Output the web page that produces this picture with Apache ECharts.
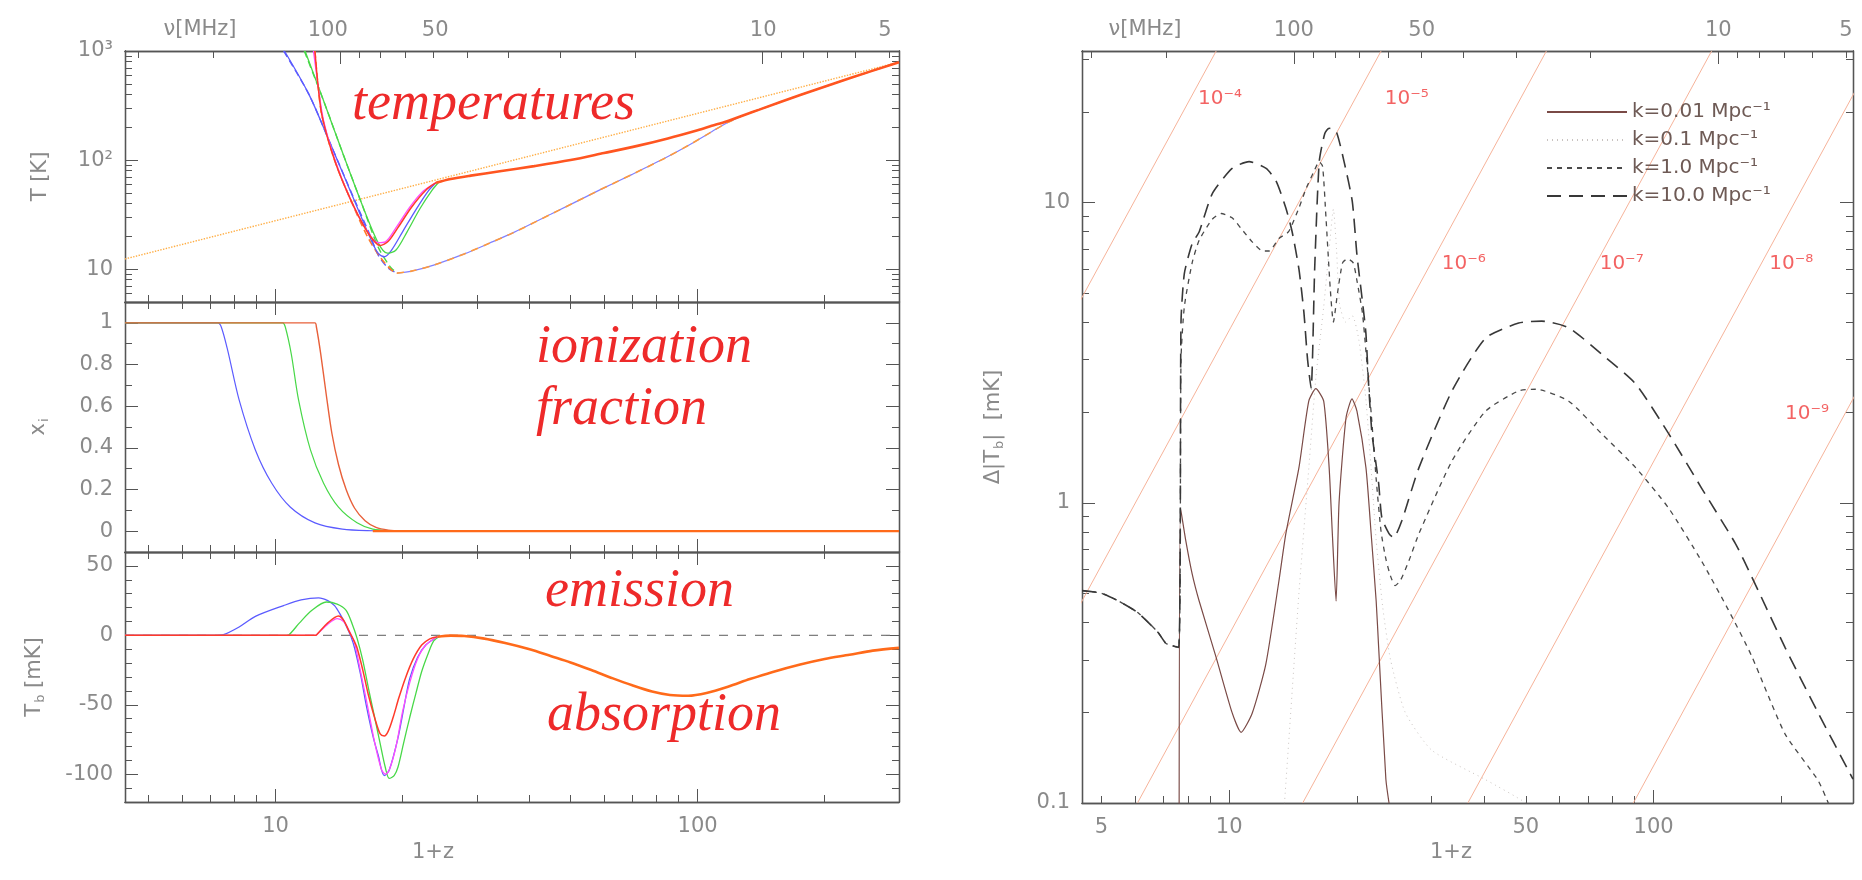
<!DOCTYPE html>
<html>
<head>
<meta charset="utf-8">
<script src="https://cdn.jsdelivr.net/npm/echarts@6/dist/echarts.min.js"></script>
<style>
html,body{margin:0;padding:0;background:#fff}
#c{width:1862px;height:880px}
</style>
</head>
<body>
<div id="c"></div>
<script>
// ---------- axis ranges and ticks ----------
const LEFT_ZRANGE = [4.4, 300];      // 1+z, left column
const RIGHT_ZRANGE = [4.5, 295];     // 1+z, right panel
const NU21 = 1420.4;                 // rest frequency of the 21 cm line, MHz

const Z_LABELS_LEFT = [10, 100];
const Z_LABELS_RIGHT = [5, 10, 50, 100];
const Z_MAJOR = [10, 100];
const Z_MINOR = [5, 6, 7, 8, 9, 20, 30, 40, 50, 60, 70, 80, 90, 200, 300];
const NU_LABELS = [100, 50, 10, 5];
const NU_LABEL_AT_LEFT = [13.3, 23.9, 143, 278];   // 1+z under each frequency label of the left column
const NU_MAJOR = [10, 100];
const NU_MINOR = [5, 6, 7, 8, 9, 20, 30, 40, 50, 60, 70, 80, 90, 200, 300];
const T_RANGE = [5, 1000];
const T_LABELS = [10, 100, 1000];
const T_MINOR = [5, 6, 7, 8, 9, 20, 30, 40, 50, 60, 70, 80, 90, 200, 300, 400, 500, 600, 700, 800, 900];
const XI_RANGE = [-0.1, 1.1];
const XI_LABELS = [0, 0.2, 0.4, 0.6, 0.8, 1];
const XI_MINOR = [0.1, 0.3, 0.5, 0.7, 0.9];
const TB_RANGE = [-120, 60];
const TB_LABELS = [-100, -50, 0, 50];
const TB_MINOR = [-110, -90, -80, -70, -60, -40, -30, -20, -10, 10, 20, 30, 40];
const DT_RANGE = [0.1, 32];
const DT_LABELS = [0.1, 1, 10];
const DT_MINOR = [0.2, 0.3, 0.4, 0.5, 0.6, 0.7, 0.8, 0.9, 2, 3, 4, 5, 6, 7, 8, 9, 20, 30];

// ---------- temperatures: [1+z, T in K] ----------
const T_CMB = [[4.4, 12.4], [300, 790]];
const TK_HIGHZ = [[19.4, 9.2], [21, 9.6], [23.7, 10.9], [28, 13.8], [32, 17.2], [36.5, 21.5], [45, 32], [58.5, 53], [70, 74], [84.4, 106], [95, 136], [108, 182], [117, 218], [130, 262], [140, 290], [175, 395], [230, 565], [300, 790]];
const TS_HIGHZ = [[24, 62], [26, 67], [29, 72], [34, 79], [41, 88], [50, 100], [60, 116], [72, 135], [85, 158], [100, 188], [108, 206], [117, 226], [130, 262], [140, 290], [175, 395], [230, 565], [300, 790]];
const TK_BLUE = [[10.45, 1000], [12, 400], [13.4, 150], [15.4, 43], [16.8, 20], [17.5, 13.5], [18.5, 10.2], [19.4, 9.2]];
const TK_GREEN = [[11.7, 1000], [13, 350], [14.5, 110], [16, 40], [17.5, 16], [18.7, 10.5], [19.4, 9.2]];
const TK_RED = [[12.4, 1000], [12.6, 500], [12.9, 250], [13.8, 100], [15, 45], [16.5, 20], [17.8, 12.5], [19, 9.5], [19.4, 9.2]];
const TS_BLUE = [[10.5, 1000], [12, 400], [13.4, 150], [15.4, 42], [16.8, 19], [17.5, 14], [18.1, 13], [18.8, 14.8], [20, 22], [21.5, 35], [23, 52], [24, 62]];
const TS_GREEN = [[11.75, 1000], [13, 350], [14.5, 110], [16, 40], [17.5, 17.5], [18.4, 14], [19.3, 15], [20.5, 22], [22, 36], [23.5, 53], [24.3, 62]];
const TS_MAGENTA = [[12.3, 1000], [12.6, 500], [13, 230], [13.9, 95], [15, 45], [16.4, 23], [17.5, 17.5], [18.2, 17.8], [19.3, 24], [20.8, 37], [22.4, 52], [24, 62]];
const TS_RED = [[12.4, 1000], [12.6, 500], [12.9, 250], [13.8, 100], [15, 45], [16.5, 22], [17.7, 16.5], [18.5, 18], [19.5, 24], [21, 37], [22.7, 53], [24, 62]];

// ---------- ionization fraction: [1+z, x_i] ----------
const XI_BLUE = [[4.4, 1], [7.3, 1], [7.44, 0.98], [7.7, 0.87], [8.2, 0.63], [8.96, 0.39], [9.8, 0.23], [10.85, 0.115], [12.4, 0.04], [14.4, 0.01], [17, 0.002], [20, 0]];
const XI_GREEN = [[4.4, 1], [10.4, 1], [10.55, 0.98], [10.9, 0.85], [11.34, 0.63], [12.1, 0.39], [13, 0.23], [14.1, 0.115], [15.6, 0.04], [17, 0.01], [19, 0.002], [21, 0]];
const XI_RED = [[4.4, 1], [12.4, 1], [12.5, 0.98], [12.8, 0.85], [13.2, 0.65], [13.6, 0.47], [14.1, 0.32], [14.7, 0.2], [15.4, 0.11], [16.3, 0.05], [17.3, 0.018], [18.5, 0.005], [20, 0]];
const XI_HIGHZ = [[17, 0], [300, 0]];

// ---------- brightness temperature: [1+z, T_b in mK] ----------
const TB_ZERO = [[4.4, 0], [300, 0]];
const TB_BLUE = [[4.4, 0], [7.3, 0], [7.5, 0.3], [8.2, 6], [8.96, 13.6], [10.45, 21.4], [11.5, 25.5], [12.65, 27], [13.3, 25], [13.8, 21.4], [14.3, 14], [14.7, 7], [15.1, -1], [15.4, -9.3], [15.9, -28], [16.4, -50], [17, -72], [17.5, -86], [18.1, -101], [18.6, -97], [19.5, -74], [20.2, -50], [20.8, -31], [21.7, -16], [22.7, -7], [24.2, -1]];
const TB_GREEN = [[4.4, 0], [10.6, 0], [10.75, 0.3], [11.4, 9], [12.2, 18], [13.2, 24], [14, 22.5], [14.7, 18], [15.2, 8], [15.6, -2], [16.1, -18], [16.6, -38], [17.2, -60], [17.7, -78], [18.2, -95], [18.6, -103], [19.1, -101], [19.5, -95], [20.1, -78], [20.8, -59], [21.5, -42], [22.2, -26], [23, -13], [23.7, -4], [24.4, -1]];
const TB_MAGENTA = [[4.4, 0], [12.4, 0], [12.5, 0.3], [13.3, 8], [14, 12], [14.5, 10], [14.9, 4], [15.4, -6], [15.9, -26], [16.5, -50], [17.2, -78], [17.8, -96], [18.2, -100], [18.6, -97], [19.3, -80], [20, -55], [20.8, -34], [21.7, -17], [22.7, -7], [24.2, -1]];
const TB_RED = [[4.4, 0], [12.4, 0], [12.5, 0.3], [13.3, 9], [14.1, 14], [14.5, 11], [14.9, 3.6], [15.3, -3], [15.6, -9], [16.1, -25], [16.6, -43], [17.2, -60], [17.7, -71], [18.1, -72.5], [18.5, -69], [19, -59], [19.6, -45], [20.3, -31], [21.2, -17], [22.2, -7], [23.2, -2.5], [24.2, -1]];
const TB_HIGHZ = [[24.2, -1], [26, -0.2], [28, -0.5], [31, -2.2], [35, -5.5], [40, -10], [45, -15], [50, -19.5], [56, -25], [63, -31], [70, -36], [78, -40.5], [86, -43], [95, -43.5], [105, -41.5], [118, -37], [133, -31.5], [150, -26.5], [175, -21], [200, -17], [229, -14], [260, -11], [300, -9]];

// ---------- fluctuation amplitude: [1+z, Delta|T_b| in mK] ----------
const K_NAMES = ['k=0.01 Mpc⁻¹', 'k=0.1 Mpc⁻¹', 'k=1.0 Mpc⁻¹', 'k=10.0 Mpc⁻¹'];
const DT_LOWZ = [[4.5, 0.51], [5, 0.5], [5.5, 0.47], [6.1, 0.43], [6.8, 0.37], [7.1, 0.34], [7.6, 0.33]];
const DT_K001 = [[7.62, 0.05], [7.68, 0.96], [7.9, 0.75], [8.18, 0.58], [8.5, 0.47], [9.32, 0.305], [10.16, 0.2], [10.67, 0.172], [11.33, 0.199], [12.2, 0.29], [13.1, 0.55], [13.6, 0.79], [14.6, 1.31], [15.4, 2.18], [16, 2.4], [16.7, 2.18], [17.2, 1.31], [17.5, 0.79], [17.86, 0.47], [18.15, 1.0], [18.85, 1.92], [19.47, 2.22], [20, 2.02], [21, 1.31], [21.6, 0.79], [22.2, 0.47], [22.5, 0.33], [23.4, 0.12], [23.8, 0.1]];
const DT_K01 = [[13, 0.05], [13.5, 0.1], [14.6, 0.5], [15.4, 1.3], [16, 2.6], [16.7, 4.5], [17.2, 7], [17.6, 9.5], [17.9, 7], [18.2, 4.6], [18.8, 4], [19.5, 4.2], [20.2, 3.5], [21, 2.2], [21.6, 1.3], [22.2, 0.75], [23, 0.45], [24, 0.3], [26, 0.2], [30, 0.15], [40, 0.12], [50, 0.1], [60, 0.08]];
const DT_K1 = [[7.7, 3], [7.84, 4.5], [8.18, 6.3], [8.5, 7.5], [9.12, 8.8], [9.58, 9.2], [10.16, 8.9], [10.67, 8.2], [11.33, 7.4], [12, 6.9], [12.42, 6.9], [13.1, 7.6], [13.8, 8], [14.6, 9.6], [15.2, 11.2], [15.8, 12.6], [16.3, 13.7], [16.6, 13.2], [16.9, 9], [17.3, 5.2], [17.6, 4], [18, 5], [18.5, 6.3], [19, 6.5], [19.6, 6.3], [20, 5.5], [20.6, 4.3], [21, 3.2], [21.6, 2], [22.2, 1.2], [22.8, 0.8], [23.4, 0.65], [24, 0.57], [24.6, 0.53], [25.3, 0.55], [26.5, 0.64], [28, 0.79], [33.5, 1.38], [40.2, 2.02], [48.1, 2.36], [52.8, 2.39], [63.1, 2.18], [75.4, 1.7], [90.7, 1.31], [108.5, 0.96], [129.7, 0.64], [150, 0.44], [170, 0.31], [204, 0.17], [244, 0.119], [258, 0.1]];
const DT_K10 = [[7.7, 4], [7.84, 5.8], [8.18, 7.3], [8.5, 8], [9.12, 10.7], [10.16, 13], [11.14, 13.7], [12.22, 13], [12.9, 11.8], [13.6, 9.6], [14.07, 8], [14.6, 6], [15, 4.3], [15.3, 3], [15.6, 2.4], [15.9, 6], [16.3, 13.7], [16.8, 17], [17.2, 17.7], [17.86, 17.3], [18.65, 13.7], [19.5, 10.1], [20, 6.7], [20.6, 4.7], [21, 3.66], [21.3, 2.5], [21.7, 1.7], [22.5, 1.16], [22.9, 0.89], [23.8, 0.79], [24.4, 0.765], [25.5, 0.87], [28, 1.31], [33.5, 2.36], [40.2, 3.54], [48.1, 3.97], [54.5, 4.03], [63.1, 3.83], [75.4, 3.13], [90.7, 2.49], [108.5, 1.7], [129.7, 1.12], [156, 0.73], [170, 0.57], [204, 0.33], [244, 0.2], [288, 0.128], [295, 0.12]];

// guide lines of constant amplitude and their labels
const GUIDE_LABELS = ['10⁻⁴', '10⁻⁵', '10⁻⁶', '10⁻⁷', '10⁻⁸', '10⁻⁹'];
const GUIDE_LINES = [
  [[1.01, 0.1], [9.32, 32]],
  [[2.48, 0.1], [22.8, 32]],
  [[6.08, 0.1], [55.9, 32]],
  [[14.9, 0.1], [137, 32]],
  [[36.5, 0.1], [336, 32]],
  [[89.6, 0.1], [823, 32]]
];
const GUIDE_LABEL_POS = [[9.52, 22.1], [26.2, 22.1], [35.7, 6.24], [84.1, 6.24], [211, 6.24], [230, 1.98]];

// ---------- helpers ----------
const L = Math.log10;
const lg = pts => pts.map(([x, y]) => [L(x), L(y)]);   // log x, log y
const lx = pts => pts.map(([x, y]) => [L(x), y]);      // log x, linear y

const AXIS_COLOR = '#555';
const LABEL_COLOR = '#8a8a8a';
const FONT = 'DejaVu Sans';

const fmtLog = v => String(+Math.pow(10, v).toPrecision(3));
const fmtT = v => ({ 1: '10', 2: '10²', 3: '10³' })[Math.round(v)];
const fmtLin = v => String(v);
const fmtNuLeft = v => {
  const i = NU_LABEL_AT_LEFT.findIndex(z => Math.abs(L(z) - v) < 1e-6);
  return i < 0 ? '' : String(NU_LABELS[i]);
};

const nameRich = {
  n: { fontSize: 21, fontFamily: FONT, color: LABEL_COLOR },
  s: { fontSize: 13, fontFamily: FONT, color: LABEL_COLOR, padding: [12, 0, 0, 1] }
};

const xAxis = [], yAxis = [];
function mkAxis(o) {
  const conv = v => (o.log ? L(v) : v);
  const lbl = o.labels ? o.labels.map(conv) : null;
  return {
    type: 'value', gridIndex: o.grid, position: o.pos,
    min: o.min, max: o.max, inverse: !!o.inverse,
    axisLine: { show: o.noLine ? false : true, onZero: false, lineStyle: { color: AXIS_COLOR, width: 1.3 } },
    axisTick: o.ticks ? { show: true, inside: true, length: o.len, customValues: o.ticks.map(conv), lineStyle: { color: AXIS_COLOR, width: 1 } } : { show: false },
    axisLabel: lbl ? { show: true, customValues: lbl, formatter: o.fmt, color: LABEL_COLOR, fontSize: 21, fontFamily: FONT, margin: o.margin } : { show: false },
    splitLine: { show: false },
    name: o.name || '', nameLocation: 'middle', nameGap: o.nameGap || 0,
    nameTextStyle: Object.assign({ fontSize: 21, fontFamily: FONT, color: LABEL_COLOR }, o.nameStyle || {})
  };
}
function push(list, cfg) { list.push(cfg); return list.length - 1; }

// one framed panel: ticks on all four sides, labels where given
function panel(g, p) {
  const xr = p.x, yr = p.y;
  const zmin = L(xr[0]), zmax = L(xr[1]);
  const xi = push(xAxis, mkAxis({ grid: g, pos: 'bottom', log: true, min: zmin, max: zmax, ticks: Z_MAJOR, len: 13, labels: p.xLabels, fmt: fmtLog, margin: 14 }));
  push(xAxis, mkAxis({ grid: g, pos: 'bottom', log: true, min: zmin, max: zmax, ticks: Z_MINOR, len: 7 }));
  if (p.nu) {
    const nmin = L(NU21 / xr[1]), nmax = L(NU21 / xr[0]);
    push(xAxis, mkAxis({ grid: g, pos: 'top', log: true, min: nmin, max: nmax, inverse: true, ticks: NU_MAJOR, len: 13, labels: p.nuLabelsAt ? null : NU_LABELS, fmt: fmtLog, margin: 10 }));
    push(xAxis, mkAxis({ grid: g, pos: 'top', log: true, min: nmin, max: nmax, inverse: true, ticks: NU_MINOR, len: 7 }));
    if (p.nuLabelsAt) {
      push(xAxis, mkAxis({ grid: g, pos: 'top', log: true, min: zmin, max: zmax, noLine: true, labels: p.nuLabelsAt, fmt: fmtNuLeft, margin: 10 }));
    }
  } else {
    push(xAxis, mkAxis({ grid: g, pos: 'top', log: true, min: zmin, max: zmax, ticks: Z_MAJOR, len: 13 }));
    push(xAxis, mkAxis({ grid: g, pos: 'top', log: true, min: zmin, max: zmax, ticks: Z_MINOR, len: 7 }));
  }
  const ylog = !!p.ylog;
  const ymin = ylog ? L(yr[0]) : yr[0], ymax = ylog ? L(yr[1]) : yr[1];
  const yi = push(yAxis, mkAxis({ grid: g, pos: 'left', log: ylog, min: ymin, max: ymax, ticks: p.yLabels, len: 13, labels: p.yLabels, fmt: p.yFmt, margin: 12, name: p.yName, nameGap: p.yNameGap, nameStyle: p.yNameStyle }));
  push(yAxis, mkAxis({ grid: g, pos: 'left', log: ylog, min: ymin, max: ymax, ticks: p.yMinor, len: 7 }));
  push(yAxis, mkAxis({ grid: g, pos: 'right', log: ylog, min: ymin, max: ymax, ticks: p.yLabels, len: 13 }));
  push(yAxis, mkAxis({ grid: g, pos: 'right', log: ylog, min: ymin, max: ymax, ticks: p.yMinor, len: 7 }));
  return { xi, yi };
}

const grids = [
  { left: 125, top: 51, width: 774, height: 251 },
  { left: 125, top: 302, width: 774, height: 250 },
  { left: 125, top: 552, width: 774, height: 250 },
  { left: 1082, top: 51, width: 771, height: 752 }
].map(g => Object.assign({ containLabel: false, outerBoundsMode: 'none', show: false }, g));

const P0 = panel(0, { x: LEFT_ZRANGE, y: T_RANGE, ylog: true, nu: true, nuLabelsAt: NU_LABEL_AT_LEFT, yLabels: T_LABELS, yMinor: T_MINOR, yFmt: fmtT, yName: 'T [K]', yNameGap: 74 });
const P1 = panel(1, { x: LEFT_ZRANGE, y: XI_RANGE, yLabels: XI_LABELS, yMinor: XI_MINOR, yFmt: fmtLin, yName: '{n|x}{s|i}', yNameGap: 74, yNameStyle: { rich: nameRich } });
const P2 = panel(2, { x: LEFT_ZRANGE, y: TB_RANGE, xLabels: Z_LABELS_LEFT, yLabels: TB_LABELS, yMinor: TB_MINOR, yFmt: fmtLin, yName: '{n|T}{s|b}{n| [mK]}', yNameGap: 78, yNameStyle: { rich: nameRich } });
const P3 = panel(3, { x: RIGHT_ZRANGE, y: DT_RANGE, ylog: true, nu: true, xLabels: Z_LABELS_RIGHT, yLabels: DT_LABELS, yMinor: DT_MINOR, yFmt: fmtLog, yName: '{n|Δ|T}{s|b}{n||  [mK]}', yNameGap: 76, yNameStyle: { rich: nameRich } });

function line(name, data, P, color, width, type, extra) {
  return Object.assign({
    type: 'line', name, data, xAxisIndex: P.xi, yAxisIndex: P.yi,
    symbol: 'none', showSymbol: false, clip: true, animation: false,
    smooth: 0.3,
    lineStyle: { color, width, type }, itemStyle: { color }, z: 3
  }, extra || {});
}

const BLUE = '#5b5bff', GREEN = '#48d848', MAGENTA = '#ff4cff', RED = '#ff3a2a', ORANGE = '#ff6a1a';

const series = [
  // temperatures
  line('T_CMB', lg(T_CMB), P0, '#ffae45', 1.4, 'dotted', { smooth: false }),
  line('T_K', lg(TK_HIGHZ), P0, '#8080ff', 1.2, 'solid'),
  line('T_K ', lg(TK_HIGHZ), P0, '#ff9a3c', 1.6, [7, 6]),
  line('T_K blue', lg(TK_BLUE), P0, BLUE, 1.4, [7, 4]),
  line('T_K green', lg(TK_GREEN), P0, GREEN, 1.4, [7, 4]),
  line('T_K red', lg(TK_RED), P0, '#ff7a2a', 1.6, [7, 4]),
  line('T_S blue', lg(TS_BLUE), P0, BLUE, 1.3, 'solid'),
  line('T_S green', lg(TS_GREEN), P0, GREEN, 1.3, 'solid'),
  line('T_S magenta', lg(TS_MAGENTA), P0, MAGENTA, 1.3, 'solid'),
  line('T_S red', lg(TS_RED), P0, RED, 1.5, 'solid'),
  line('T_S', lg(TS_HIGHZ), P0, '#ff5520', 2.6, 'solid'),
  // ionization fraction
  line('x_i blue', lx(XI_BLUE), P1, BLUE, 1.2, 'solid'),
  line('x_i green', lx(XI_GREEN), P1, GREEN, 1.2, 'solid'),
  line('x_i red', lx(XI_RED), P1, '#e8603a', 1.4, 'solid'),
  line('x_i', lx(XI_HIGHZ), P1, ORANGE, 2.4, 'solid', { smooth: false }),
  // brightness temperature
  line('zero', lx(TB_ZERO), P2, '#777', 1.2, [9, 9], { smooth: false, z: 2 }),
  line('T_b blue', lx(TB_BLUE), P2, BLUE, 1.3, 'solid'),
  line('T_b green', lx(TB_GREEN), P2, GREEN, 1.3, 'solid'),
  line('T_b magenta', lx(TB_MAGENTA), P2, MAGENTA, 1.3, 'solid'),
  line('T_b red', lx(TB_RED), P2, RED, 1.5, 'solid'),
  line('T_b', lx(TB_HIGHZ), P2, ORANGE, 2.6, 'solid')
];

// guide lines in the right panel
GUIDE_LINES.forEach((g, i) => {
  series.push(line('guide ' + i, lg(g), P3, '#f6b39a', 1, 'solid', { smooth: false, z: 1 }));
});
series.push({
  type: 'scatter', name: 'guide labels', xAxisIndex: P3.xi, yAxisIndex: P3.yi,
  data: lg(GUIDE_LABEL_POS), symbolSize: 1, itemStyle: { color: 'rgba(0,0,0,0)' },
  animation: false, z: 4,
  label: { show: true, position: 'inside', formatter: p => GUIDE_LABELS[p.dataIndex], color: '#f03c3c', fontSize: 20, fontFamily: FONT }
});

// fluctuation curves for each scale; the two smallest scales carry the post-reionization tail
const kStyles = [
  { data: DT_K001, color: '#7a4a46', width: 1.2, type: 'solid', opacity: 1 },
  { data: DT_K01, color: '#9d918c', width: 1, type: [1, 4], opacity: 0.55 },
  { data: DT_LOWZ.concat(DT_K1), color: '#4a4a4a', width: 1.3, type: [5, 5], opacity: 1 },
  { data: DT_LOWZ.concat(DT_K10), color: '#383838', width: 1.6, type: [14, 8], opacity: 1 }
];
kStyles.forEach((s, i) => {
  series.push(line(K_NAMES[i], lg(s.data), P3, s.color, s.width, s.type,
    { smooth: 0.2, z: 3 + i, lineStyle: { color: s.color, width: s.width, type: s.type, opacity: s.opacity } }));
});

const titleText = (text, x, y) => ({
  type: 'text', x, y, silent: true,
  style: { text, fill: '#ee2a2a', font: 'italic 54px "Liberation Serif"', align: 'left', verticalAlign: 'middle', textAlign: 'left', textVerticalAlign: 'middle' }
});
const grayText = (text, x, y) => ({
  type: 'text', x, y, silent: true,
  style: { text, fill: LABEL_COLOR, font: '21px "DejaVu Sans"', align: 'center', verticalAlign: 'middle', textAlign: 'center', textVerticalAlign: 'middle' }
});

const chart = echarts.init(document.getElementById('c'), null, { renderer: 'canvas' });
chart.setOption({
  backgroundColor: '#ffffff',
  animation: false,
  grid: grids,
  xAxis, yAxis, series,
  legend: {
    show: true, data: K_NAMES, orient: 'vertical', left: 1541, top: 97,
    itemWidth: 80, itemHeight: 16, itemGap: 8, selectedMode: false,
    itemStyle: { opacity: 0, borderWidth: 0 },
    textStyle: { fontSize: 20, fontFamily: FONT, color: '#6e5a55' }
  },
  graphic: [
    titleText('temperatures', 352, 105),
    titleText('ionization', 536, 348),
    titleText('fraction', 536, 410),
    titleText('emission', 545, 592),
    titleText('absorption', 547, 716),
    grayText('ν[MHz]', 200, 30),
    grayText('ν[MHz]', 1145, 30),
    grayText('1+z', 433, 853),
    grayText('1+z', 1451, 853)
  ]
});
</script>
</body>
</html>
